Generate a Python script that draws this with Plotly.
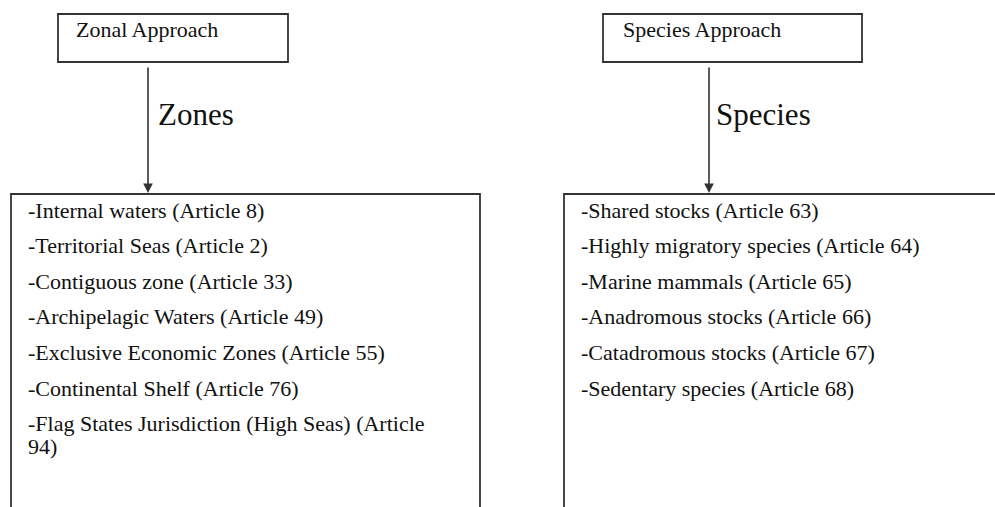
import plotly.graph_objects as go

# ---- content ----
headers = ["Zonal Approach", "Species Approach"]
arrow_labels = ["Zones", "Species"]
zonal_items = [
    "-Internal waters (Article 8)",
    "-Territorial Seas (Article 2)",
    "-Contiguous zone (Article 33)",
    "-Archipelagic Waters (Article 49)",
    "-Exclusive Economic Zones (Article 55)",
    "-Continental Shelf (Article 76)",
    "-Flag States Jurisdiction (High Seas) (Article<br>94)",
]
species_items = [
    "-Shared stocks (Article 63)",
    "-Highly migratory species (Article 64)",
    "-Marine mammals (Article 65)",
    "-Anadromous stocks (Article 66)",
    "-Catadromous stocks (Article 67)",
    "-Sedentary species (Article 68)",
]

# ---- layout geometry (pixel-like data coords) ----
W, H = 995, 507
FONT = "Liberation Serif, Times New Roman, serif"
TXT = "#111111"
LINE = "#333333"

cols = [
    dict(top_box=(58, 14, 288, 62), head_x=74, arrow_x=148, label_x=156,
         list_box=(11, 194, 480), list_x=26, items=zonal_items),
    dict(top_box=(603, 14, 862, 62), head_x=621, arrow_x=709, label_x=714,
         list_box=(564, 194, 1000), list_x=579, items=species_items),
]

fig = go.Figure()
shapes = []
annotations = []

for i, c in enumerate(cols):
    x0, y0, x1, y1 = c["top_box"]
    shapes.append(dict(type="rect", x0=x0, y0=y0, x1=x1, y1=y1,
                       line=dict(color=LINE, width=1.8), xref="x", yref="y"))
    annotations.append(dict(x=c["head_x"], y=29, text=headers[i], showarrow=False,
                            xanchor="left", yanchor="middle",
                            font=dict(family=FONT, size=22, color=TXT)))
    # arrow
    annotations.append(dict(x=c["arrow_x"], y=193, ax=c["arrow_x"], ay=y1 + 4,
                            xref="x", yref="y", axref="x", ayref="y", text="",
                            showarrow=True, arrowhead=2, arrowsize=1.2,
                            arrowwidth=1.6, arrowcolor=LINE))
    annotations.append(dict(x=c["label_x"], y=114, text=arrow_labels[i], showarrow=False,
                            xanchor="left", yanchor="middle",
                            font=dict(family=FONT, size=31, color=TXT)))
    # open-bottom list box
    lx0, ly0, lx1 = c["list_box"]
    shapes.append(dict(type="path",
                       path=f"M {lx0},{H+10} L {lx0},{ly0} L {lx1},{ly0} L {lx1},{H+10}",
                       line=dict(color=LINE, width=1.8), xref="x", yref="y"))
    for k, item in enumerate(c["items"]):
        yk = 210 + k * 35.6
        for j, part in enumerate(item.split("<br>")):
            annotations.append(dict(x=c["list_x"], y=yk + j * 23, text=part, showarrow=False,
                                    xanchor="left", yanchor="middle",
                                    font=dict(family=FONT, size=22, color=TXT)))

fig.update_layout(
    width=W, height=H,
    margin=dict(l=0, r=0, t=0, b=0),
    paper_bgcolor="white", plot_bgcolor="white",
    xaxis=dict(range=[0, W], visible=False, fixedrange=True),
    yaxis=dict(range=[H, 0], visible=False, fixedrange=True),
    shapes=shapes, annotations=annotations, showlegend=False,
)

fig.write_html("out.html", config={"displayModeBar": False},
               post_script="document.body.style.margin='0';document.body.style.overflow='hidden';")
